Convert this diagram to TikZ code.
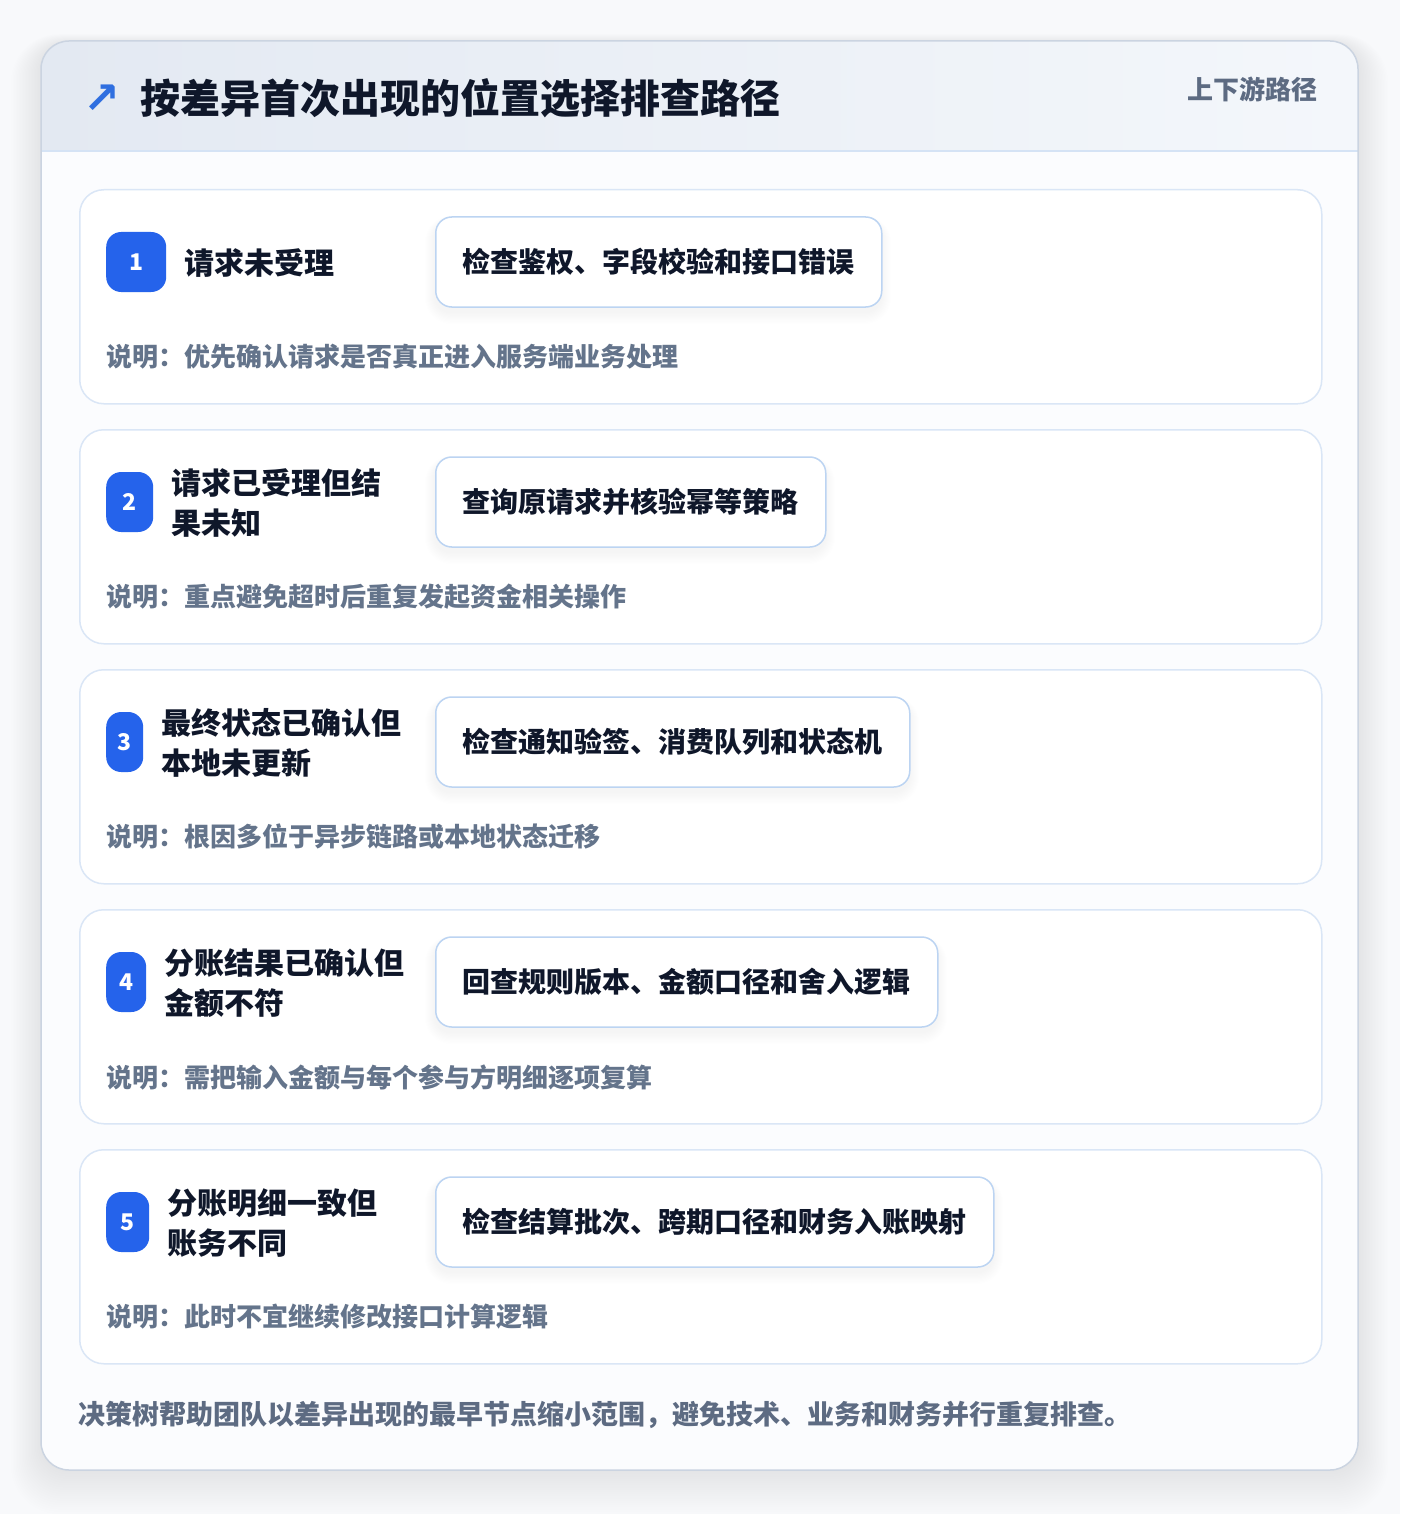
\documentclass[tikz,border=0pt]{standalone}
\usepackage{fontspec}
\setmainfont{Noto Sans CJK SC}
\newfontfamily\symf{DejaVu Sans}
\usetikzlibrary{calc}
\definecolor{pagebg}{HTML}{F8F9FB}
\definecolor{cardbd}{HTML}{CBD4E1}
\definecolor{cardfill}{HTML}{FBFCFE}
\definecolor{hdrL}{HTML}{E3E9F2}
\definecolor{hdrR}{HTML}{F4F7FB}
\definecolor{hdrline}{HTML}{D5E3F5}
\definecolor{stepbd}{HTML}{DAE6F6}
\definecolor{actbd}{HTML}{BCD4F2}
\definecolor{badgec}{HTML}{2563EB}
\definecolor{darkt}{HTML}{0F172A}
\definecolor{grayt}{HTML}{64748B}
\definecolor{subt}{HTML}{5D6B82}
\definecolor{iconc}{HTML}{2F6FE0}
\tikzset{
  stepcard/.style={draw=stepbd, line width=1.5pt, fill=white, rounded corners=24pt, inner sep=0pt},
  badgebox/.style={fill=badgec, rounded corners=15pt, inner sep=0pt, minimum height=60pt, text=white,
    font=\bfseries\fontsize{23}{23}\selectfont},
  steptitle/.style={anchor=west, align=left, inner sep=0pt, text=darkt, font=\bfseries\fontsize{30}{40}\selectfont},
  actbox/.style={draw=actbd, line width=1.5pt, fill=white, rounded corners=16pt, inner sep=0pt, minimum height=90pt},
  acttext/.style={anchor=west, inner sep=0pt, text=darkt, font=\bfseries\fontsize{28}{28}\selectfont},
  notetext/.style={anchor=west, inner sep=0pt, text=grayt, font=\bfseries\fontsize{26}{26}\selectfont},
}
\begin{document}
\begin{tikzpicture}[x=1pt,y=-1pt]
\useasboundingbox (0,0) rectangle (1400,1514);
\fill[pagebg] (0,0) rectangle (1400,1514);
% card shadow
\foreach \k in {1,...,20}{
  \fill[black, opacity=0.004, rounded corners={(28+\k)*1pt}] (41-\k*1.5, 41-\k*0.5+3) rectangle (1358+\k*1.5, 1470+\k*2.2);
}
% card
\path[fill=cardfill, rounded corners=28pt] (41,41) rectangle (1358,1470);
\begin{scope}
  \clip[rounded corners=28pt] (41,41) rectangle (1358,1470);
  \shade[left color=hdrL, right color=hdrR] (41,41) rectangle (1358,151);
\end{scope}
\draw[hdrline, line width=1.5pt] (41,151) -- (1358,151);
\draw[cardbd, line width=1.5pt, rounded corners=28pt] (41,41) rectangle (1358,1470);
% header
\node[text=iconc, inner sep=0pt, font=\symf\bfseries\fontsize{44}{44}\selectfont] (icon) at (102,99) {↗};
\node[anchor=west, inner sep=0pt, text=darkt, font=\bfseries\fontsize{40}{40}\selectfont] (title) at (140,98) {按差异首次出现的位置选择排查路径};
\node[anchor=east, inner sep=0pt, text=subt, font=\bfseries\fontsize{26}{26}\selectfont] (sub) at (1318,89) {上下游路径};
% steps
\foreach \i/\bw/\ttl/\aw/\act/\note in {
  1/60/{请求未受理}/446/{检查鉴权、字段校验和接口错误}/{说明：优先确认请求是否真正进入服务端业务处理},
  2/47/{请求已受理但结\\果未知}/390/{查询原请求并核验幂等策略}/{说明：重点避免超时后重复发起资金相关操作},
  3/37/{最终状态已确认但\\本地未更新}/474/{检查通知验签、消费队列和状态机}/{说明：根因多位于异步链路或本地状态迁移},
  4/40/{分账结果已确认但\\金额不符}/502/{回查规则版本、金额口径和舍入逻辑}/{说明：需把输入金额与每个参与方明细逐项复算},
  5/43/{分账明细一致但\\账务不同}/558/{检查结算批次、跨期口径和财务入账映射}/{说明：此时不宜继续修改接口计算逻辑}}{
  \pgfmathsetmacro{\yc}{262+240*(\i-1)}
  \pgfmathsetmacro{\yt}{189+240*(\i-1)}
  \node[stepcard, anchor=north west, minimum width=1242pt, minimum height=214pt] (c\i) at (79,\yt) {};
  \node[badgebox, anchor=west, minimum width=\bw pt] (b\i) at (106,\yc) {\i};
  \node[steptitle] (t\i) at (106+\bw+18,\yc+1) {\ttl};
  \foreach \k in {1,...,10}{
    \fill[black, opacity=0.005, rounded corners={(16+\k)*1pt}] (435-\k, \yc-45-\k*0.6+5) rectangle (435+\aw+\k, \yc+45+\k*1.2+5);
  }
  \node[actbox, anchor=west, minimum width=\aw pt] (a\i) at (435,\yc) {};
  \node[acttext] (at\i) at (462,\yc) {\act};
  \node[notetext] (n\i) at (106,\yc+95) {\note};
}
% footer
\node[anchor=west, inner sep=0pt, text=subt, font=\bfseries\fontsize{27}{27}\selectfont] (foot) at (78,1415) {决策树帮助团队以差异出现的最早节点缩小范围，避免技术、业务和财务并行重复排查。};
\end{tikzpicture}
\end{document}
